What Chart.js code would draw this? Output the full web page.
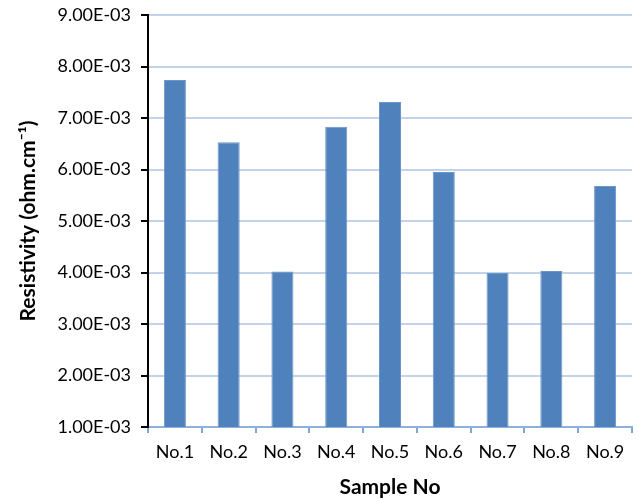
<!DOCTYPE html>
<html>
<head>
<meta charset="utf-8">
<script src="https://cdn.jsdelivr.net/npm/chart.js@4/dist/chart.umd.min.js"></script>
<style>
  html, body { margin: 0; padding: 0; background: #ffffff; }
  #wrap { width: 638px; height: 500px; }
</style>
</head>
<body>
<div id="wrap"><canvas id="chart" width="638" height="500"></canvas></div>
<script>
// Resistivity measured for each sample
const categories = ['No.1', 'No.2', 'No.3', 'No.4', 'No.5', 'No.6', 'No.7', 'No.8', 'No.9'];
const resistivity = [7.74e-3, 6.53e-3, 4.02e-3, 6.83e-3, 7.31e-3, 5.95e-3, 3.99e-3, 4.03e-3, 5.68e-3];
const yMin = 1e-3;
const yMax = 9e-3;
const yStep = 1e-3;

const FONT = 'Lato, "Open Sans", sans-serif';

// Format as 9.00E-03 (two-digit exponent)
function sci(v) {
  const [m, e] = v.toExponential(2).split('e');
  const n = parseInt(e, 10);
  const sign = n < 0 ? '-' : '+';
  return m + 'E' + sign + String(Math.abs(n)).padStart(2, '0');
}

new Chart(document.getElementById('chart'), {
  type: 'bar',
  data: {
    labels: categories,
    datasets: [{
      data: resistivity,
      backgroundColor: '#4F81BD',
      borderColor: '#6C95C8',
      borderWidth: 1,
      barPercentage: 0.41,
      categoryPercentage: 1.0
    }]
  },
  options: {
    responsive: false,
    animation: false,
    devicePixelRatio: 1,
    layout: { padding: { top: 15, right: 6, left: 0, bottom: 0 } },
    plugins: {
      legend: { display: false },
      tooltip: { enabled: false }
    },
    scales: {
      x: {
        grid: {
          offset: true,
          drawOnChartArea: false,
          drawTicks: true,
          tickLength: 6,
          color: '#7FA6D6',
          lineWidth: 2
        },
        border: { color: '#8DB0DC', width: 2 },
        ticks: {
          color: '#000000',
          font: { family: FONT, size: 18 },
          padding: 8,
          maxRotation: 0
        },
        title: {
          display: true,
          text: 'Sample No',
          color: '#000000',
          font: { family: FONT, size: 21, weight: 'bold' },
          padding: { top: 4, bottom: 0 }
        },
        afterFit(scale) {
          scale.height = 73;
          scale.paddingLeft = 0;
          scale.paddingRight = 0;
        }
      },
      y: {
        min: yMin,
        max: yMax,
        grid: {
          color: '#C3D3EA',
          lineWidth: 2,
          tickLength: 7,
          tickColor: '#000000',
          tickWidth: 2
        },
        border: { color: '#000000', width: 2 },
        ticks: {
          stepSize: yStep,
          color: '#000000',
          font: { family: FONT, size: 18 },
          padding: 10,
          callback: (v) => sci(v)
        },
        title: {
          display: true,
          text: 'Resistivity (ohm.cm\u207B\u00B9)',
          color: '#000000',
          font: { family: FONT, size: 21, weight: 'bold' },
          padding: { top: 16, bottom: 0 }
        },
        afterFit(scale) {
          scale.width = 148;
          scale.paddingTop = 0;
          scale.paddingBottom = 0;
        }
      }
    }
  }
});
</script>
</body>
</html>
